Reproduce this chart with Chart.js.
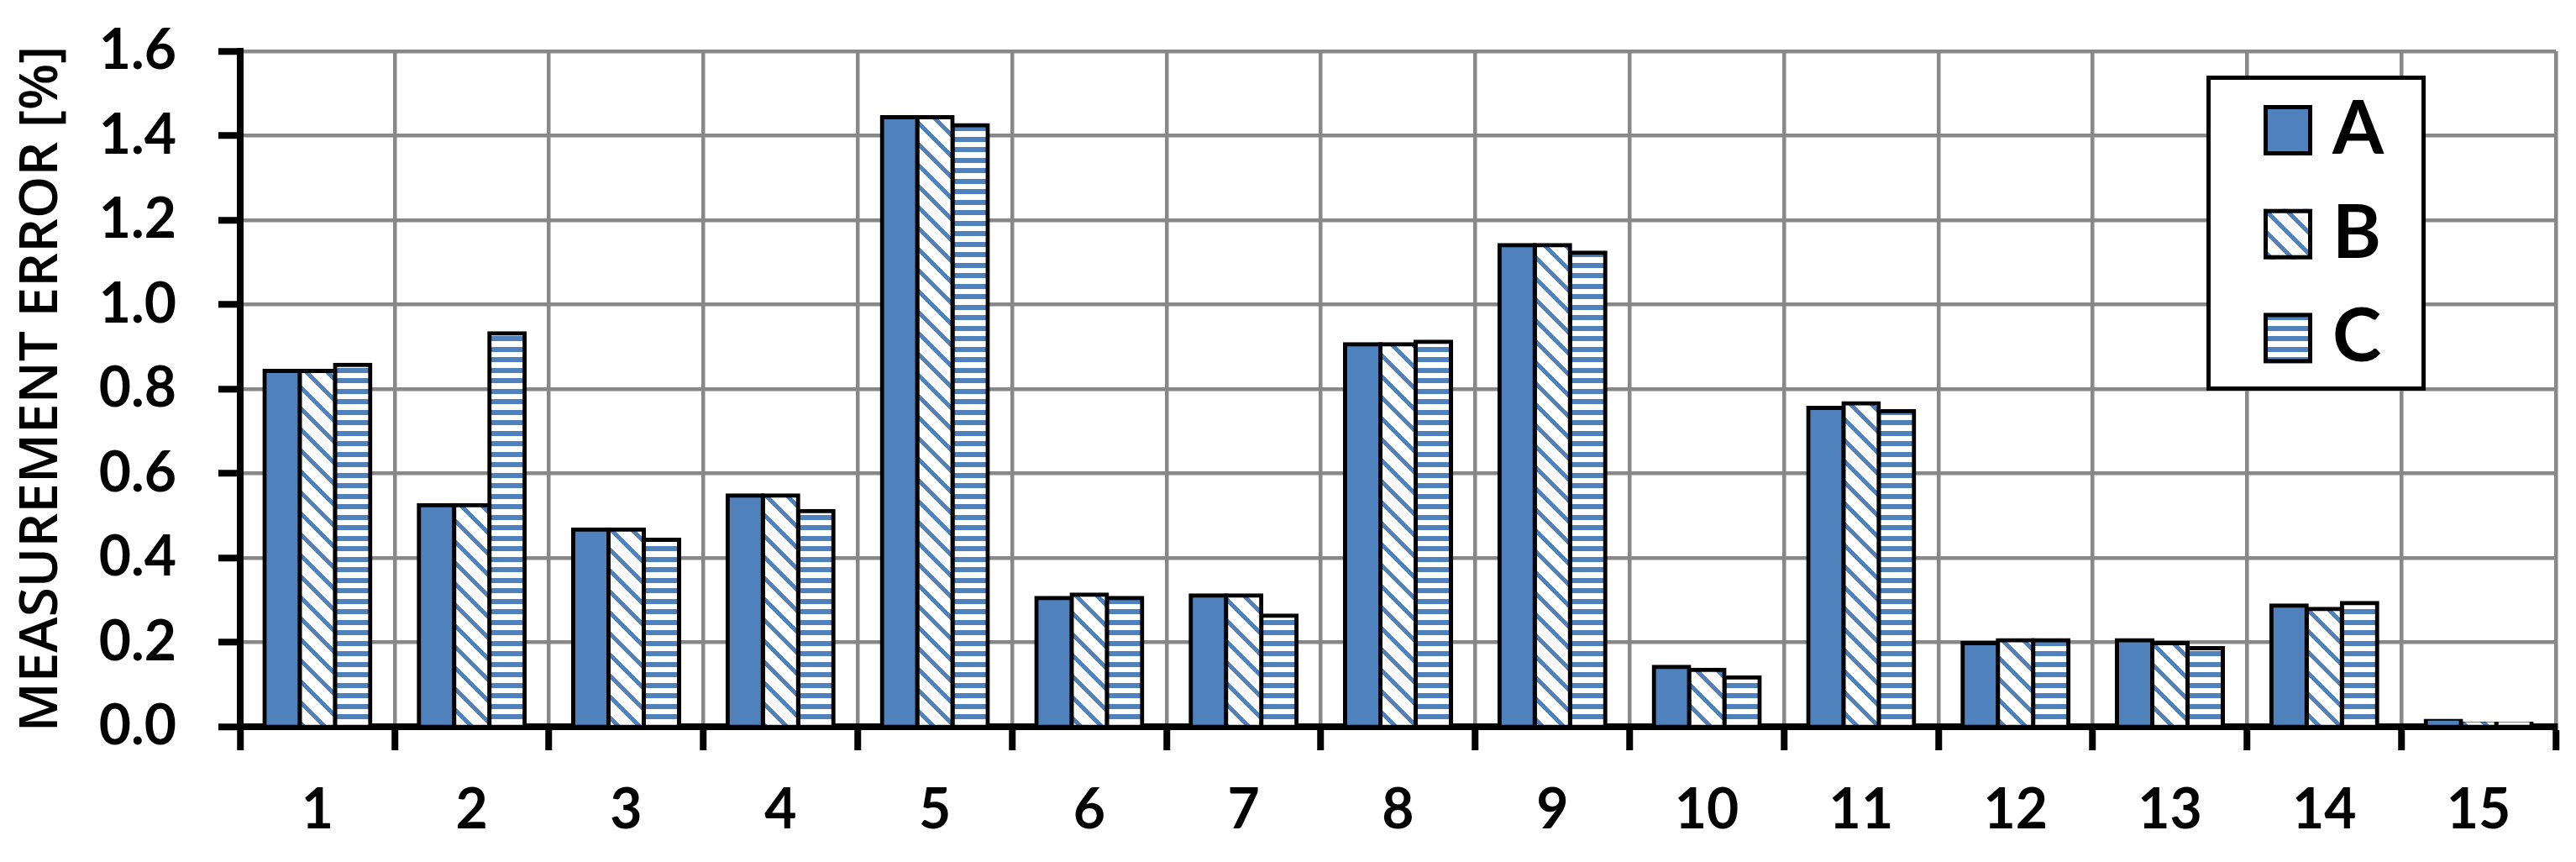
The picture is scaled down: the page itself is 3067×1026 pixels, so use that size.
<!DOCTYPE html>
<html><head><meta charset="utf-8">
<script src="https://cdn.jsdelivr.net/npm/chart.js@4.4.0/dist/chart.umd.min.js"></script>
<style>html,body{margin:0;padding:0;background:#fff;}canvas{display:block;}</style>
</head><body>
<canvas id="c" width="3067" height="1026"></canvas>
<script>
// ---- data ----
const categories = ['1','2','3','4','5','6','7','8','9','10','11','12','13','14','15'];
const seriesNames = ['A','B','C'];
const seriesA = [0.843,0.525,0.467,0.548,1.444,0.305,0.311,0.906,1.141,0.142,0.755,0.198,0.205,0.287,0.014];
const seriesB = [0.843,0.525,0.467,0.548,1.444,0.313,0.311,0.906,1.141,0.135,0.766,0.205,0.198,0.279,0.007];
const seriesC = [0.857,0.932,0.443,0.511,1.425,0.305,0.263,0.912,1.123,0.117,0.748,0.205,0.186,0.293,0.007];
const yMin = 0, yMax = 1.6, yStep = 0.2;
const yTitle = 'MEASUREMENT ERROR [%]';

// ---- styles ----
const BLUE = [79,129,189];
const BLUE_CSS = 'rgb(79,129,189)';
const canvas = document.getElementById('c');
const ctx = canvas.getContext('2d');

function tilePattern(T, W, isBlue) {
  const c = document.createElement('canvas'); c.width = W; c.height = T;
  const g = c.getContext('2d');
  const img = g.createImageData(W, T);
  for (let y = 0; y < T; y++) for (let x = 0; x < W; x++) {
    const i = (y * W + x) * 4;
    const b = isBlue(x, y);
    img.data[i] = b ? BLUE[0] : 255;
    img.data[i+1] = b ? BLUE[1] : 255;
    img.data[i+2] = b ? BLUE[2] : 255;
    img.data[i+3] = 255;
  }
  g.putImageData(img, 0, 0);
  return ctx.createPattern(c, 'repeat');
}
const diagPattern = tilePattern(25, 25, (x, y) => (((y - x) % 25) + 25) % 25 < 7);
const horizPattern = tilePattern(25, 4, (x, y) => (y % 12.5) < 6);
const fills = [BLUE_CSS, diagPattern, horizPattern];
const seriesData = [seriesA, seriesB, seriesC];

const legendPlugin = {
  id: 'boxLegend',
  afterDraw(chart) {
    const g = chart.ctx;
    const ca = chart.chartArea;
    const bx = ca.left + 2343.5, by = ca.top + 31.5, bw = 256, bh = 370;
    g.save();
    g.fillStyle = '#fff';
    g.fillRect(bx, by, bw, bh);
    g.lineWidth = 5; g.strokeStyle = '#000';
    g.strokeRect(bx, by, bw, bh);
    chart.data.datasets.forEach((ds, i) => {
      const cy = by + 62.5 + i * 123.7;
      const sx = bx + 65.5, sy = cy - 30;
      g.fillStyle = ds.backgroundColor;
      g.fillRect(sx, sy, 58, 60);
      g.lineWidth = 5; g.strokeStyle = '#000';
      g.strokeRect(sx + 2.5, sy + 2.5, 53, 55);
      g.fillStyle = '#000';
      g.font = 'bold 88px Lato';
      g.textBaseline = 'alphabetic';
      g.textAlign = 'left';
      g.fillText(ds.label, bx + 147.5, cy + 28);
    });
    g.restore();
  }
};

new Chart(ctx, {
  type: 'bar',
  data: {
    labels: categories,
    datasets: seriesNames.map((n, i) => ({
      label: n, data: seriesData[i], backgroundColor: fills[i],
      borderColor: '#000', borderWidth: 5, borderSkipped: 'bottom', inflateAmount: 2.5
    }))
  },
  options: {
    responsive: false, animation: false, devicePixelRatio: 1,
    datasets: { bar: { categoryPercentage: 0.6855, barPercentage: 1.0 } },
    layout: { padding: { top: 61, right: 24, left: 0, bottom: 0 } },
    plugins: { legend: { display: false }, tooltip: { enabled: false } },
    scales: {
      x: {
        z: 1,
        grid: {
          offset: true,
          color: c => c.index === 0 ? 'rgba(0,0,0,0)' : '#888',
          lineWidth: 4.5,
          tickLength: 28, tickColor: '#000', tickWidth: 8
        },
        border: { color: '#000', width: 8 },
        ticks: { color: '#000', font: { family: 'Lato', weight: 'bold', size: 66 }, padding: 32, autoSkip: false, maxRotation: 0 },
        afterFit(s) { s.height = 161; s.paddingLeft = 0; s.paddingRight = 0; }
      },
      y: {
        min: yMin, max: yMax,
        grid: { color: '#888', lineWidth: 4.5, tickLength: 26, tickColor: '#000', tickWidth: 8 },
        border: { color: '#000', width: 8 },
        ticks: { stepSize: yStep, color: '#000', font: { family: 'Lato', weight: 'bold', size: 66 }, padding: 50,
                 callback: v => Number(v).toFixed(1) },
        title: { display: true, text: yTitle, color: '#000', font: { family: "'Open Sans'", weight: '600', size: 64 }, padding: { top: 11, bottom: 0 } },
        afterFit(s) { s.width = 286; s.paddingTop = 0; s.paddingBottom = 0; }
      }
    }
  },
  plugins: [legendPlugin]
});
</script>
</body></html>
